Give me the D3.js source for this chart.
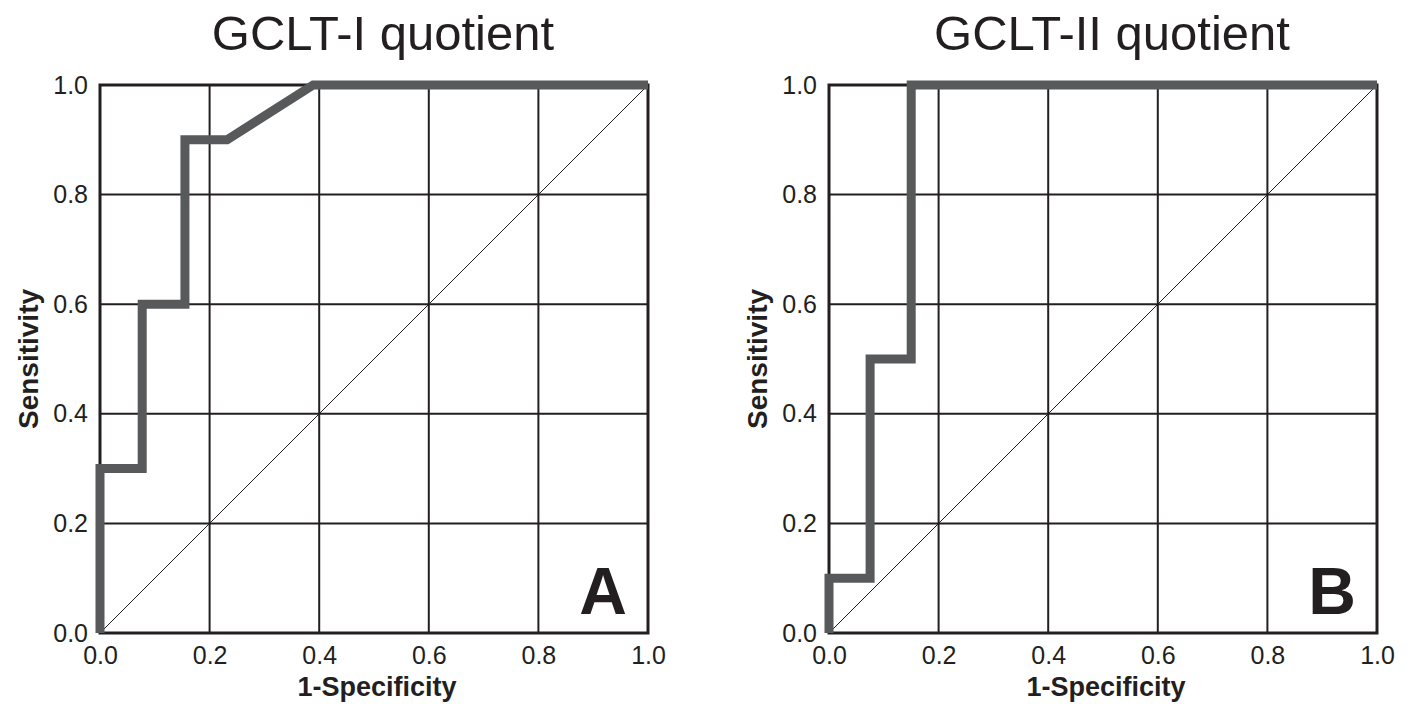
<!DOCTYPE html>
<html lang="en">
<head>
	<meta charset="utf-8">
	<title>GCLT ROC curves</title>
	<script src="https://d3js.org/d3.v7.min.js"></script>
	<style>
		body { margin: 0; background: #fff; }
		svg { display: block; font-family: "Liberation Sans", Arial, sans-serif; }
	</style>
</head>
<body>
	<script>
		// ROC data
		var panelTitles = ["GCLT-I quotient", "GCLT-II quotient"];
		var panelLetters = ["A", "B"];
		var tickValues = [0, 0.2, 0.4, 0.6, 0.8, 1.0];

		// panel A: 1-specificity / sensitivity
		var rocAx = [0, 0, 0.077, 0.077, 0.155, 0.155, 0.232, 0.389, 1.0];
		var rocAy = [0, 0.3, 0.3, 0.6, 0.6, 0.9, 0.9, 1.0, 1.0];
		// panel B
		var rocBx = [0, 0, 0.075, 0.075, 0.15, 0.15, 1.0];
		var rocBy = [0, 0.1, 0.1, 0.5, 0.5, 1.0, 1.0];

		var svgWidth = 1413,
			svgHeight = 704,
			plotSize = 548,
			panelLeft = [100, 829],
			panelTop = 85;

		var svg = d3.select("body").append("svg")
			.attr("width", svgWidth)
			.attr("height", svgHeight);

		var curves = [
			rocAx.map(function(d, i) { return [d, rocAy[i]]; }),
			rocBx.map(function(d, i) { return [d, rocBy[i]]; })
		];

		var x = d3.scaleLinear().domain([0, 1]).range([0, plotSize]);
		var y = d3.scaleLinear().domain([0, 1]).range([plotSize, 0]);

		panelLeft.forEach(function(left, p) {
			var g = svg.append("g").attr("transform", "translate(" + left + "," + panelTop + ")");

			// grid lines
			g.append("g")
				.selectAll("line")
				.data(tickValues.slice(1, -1))
				.enter().append("line")
				.attr("x1", function(d) { return x(d); })
				.attr("x2", function(d) { return x(d); })
				.attr("y1", 0)
				.attr("y2", plotSize)
				.attr("stroke", "#231f20")
				.attr("stroke-width", 2);

			g.append("g")
				.selectAll("line")
				.data(tickValues.slice(1, -1))
				.enter().append("line")
				.attr("y1", function(d) { return y(d); })
				.attr("y2", function(d) { return y(d); })
				.attr("x1", 0)
				.attr("x2", plotSize)
				.attr("stroke", "#231f20")
				.attr("stroke-width", 2);

			// chance diagonal
			g.append("line")
				.attr("x1", x(0)).attr("y1", y(0))
				.attr("x2", x(1)).attr("y2", y(1))
				.attr("stroke", "#231f20")
				.attr("stroke-width", 1);

			// frame
			g.append("rect")
				.attr("x", 0).attr("y", 0)
				.attr("width", plotSize).attr("height", plotSize)
				.attr("fill", "none")
				.attr("stroke", "#231f20")
				.attr("stroke-width", 3);

			// ROC curve
			g.append("path")
				.datum(curves[p])
				.attr("fill", "none")
				.attr("stroke", "#58595b")
				.attr("stroke-width", 9)
				.attr("stroke-linejoin", "miter")
				.attr("d", d3.line()
					.x(function(d) { return x(d[0]); })
					.y(function(d) { return y(d[1]); }));

			// axes (labels only)
			var xAxis = g.append("g")
				.attr("transform", "translate(0," + plotSize + ")")
				.call(d3.axisBottom(x).tickValues(tickValues).tickFormat(d3.format(".1f")).tickSize(0).tickPadding(13));
			var yAxis = g.append("g")
				.call(d3.axisLeft(y).tickValues(tickValues).tickFormat(d3.format(".1f")).tickSize(0).tickPadding(12));
			[xAxis, yAxis].forEach(function(a) {
				a.select(".domain").remove();
				a.selectAll("text")
					.attr("font-family", "'Liberation Sans', Arial, sans-serif")
					.attr("font-size", 25)
					.attr("fill", "#231f20");
			});

			// axis titles
			g.append("text")
				.attr("x", plotSize / 2 + 3)
				.attr("y", plotSize + 63)
				.attr("text-anchor", "middle")
				.attr("font-size", 27)
				.attr("font-weight", "bold")
				.attr("fill", "#231f20")
				.text("1-Specificity");

			g.append("text")
				.attr("transform", "translate(-62," + (plotSize / 2) + ") rotate(-90)")
				.attr("text-anchor", "middle")
				.attr("font-size", 28)
				.attr("font-weight", "bold")
				.attr("fill", "#231f20")
				.text("Sensitivity");

			// title
			g.append("text")
				.attr("x", plotSize / 2 + 9)
				.attr("y", -35)
				.attr("text-anchor", "middle")
				.attr("font-size", 49)
				.attr("fill", "#231f20")
				.text(panelTitles[p]);

			// panel letter
			g.append("text")
				.attr("x", plotSize - 21)
				.attr("y", plotSize - 19)
				.attr("text-anchor", "end")
				.attr("font-size", 66)
				.attr("font-weight", "bold")
				.attr("fill", "#231f20")
				.text(panelLetters[p]);
		});
	</script>
</body>
</html>
